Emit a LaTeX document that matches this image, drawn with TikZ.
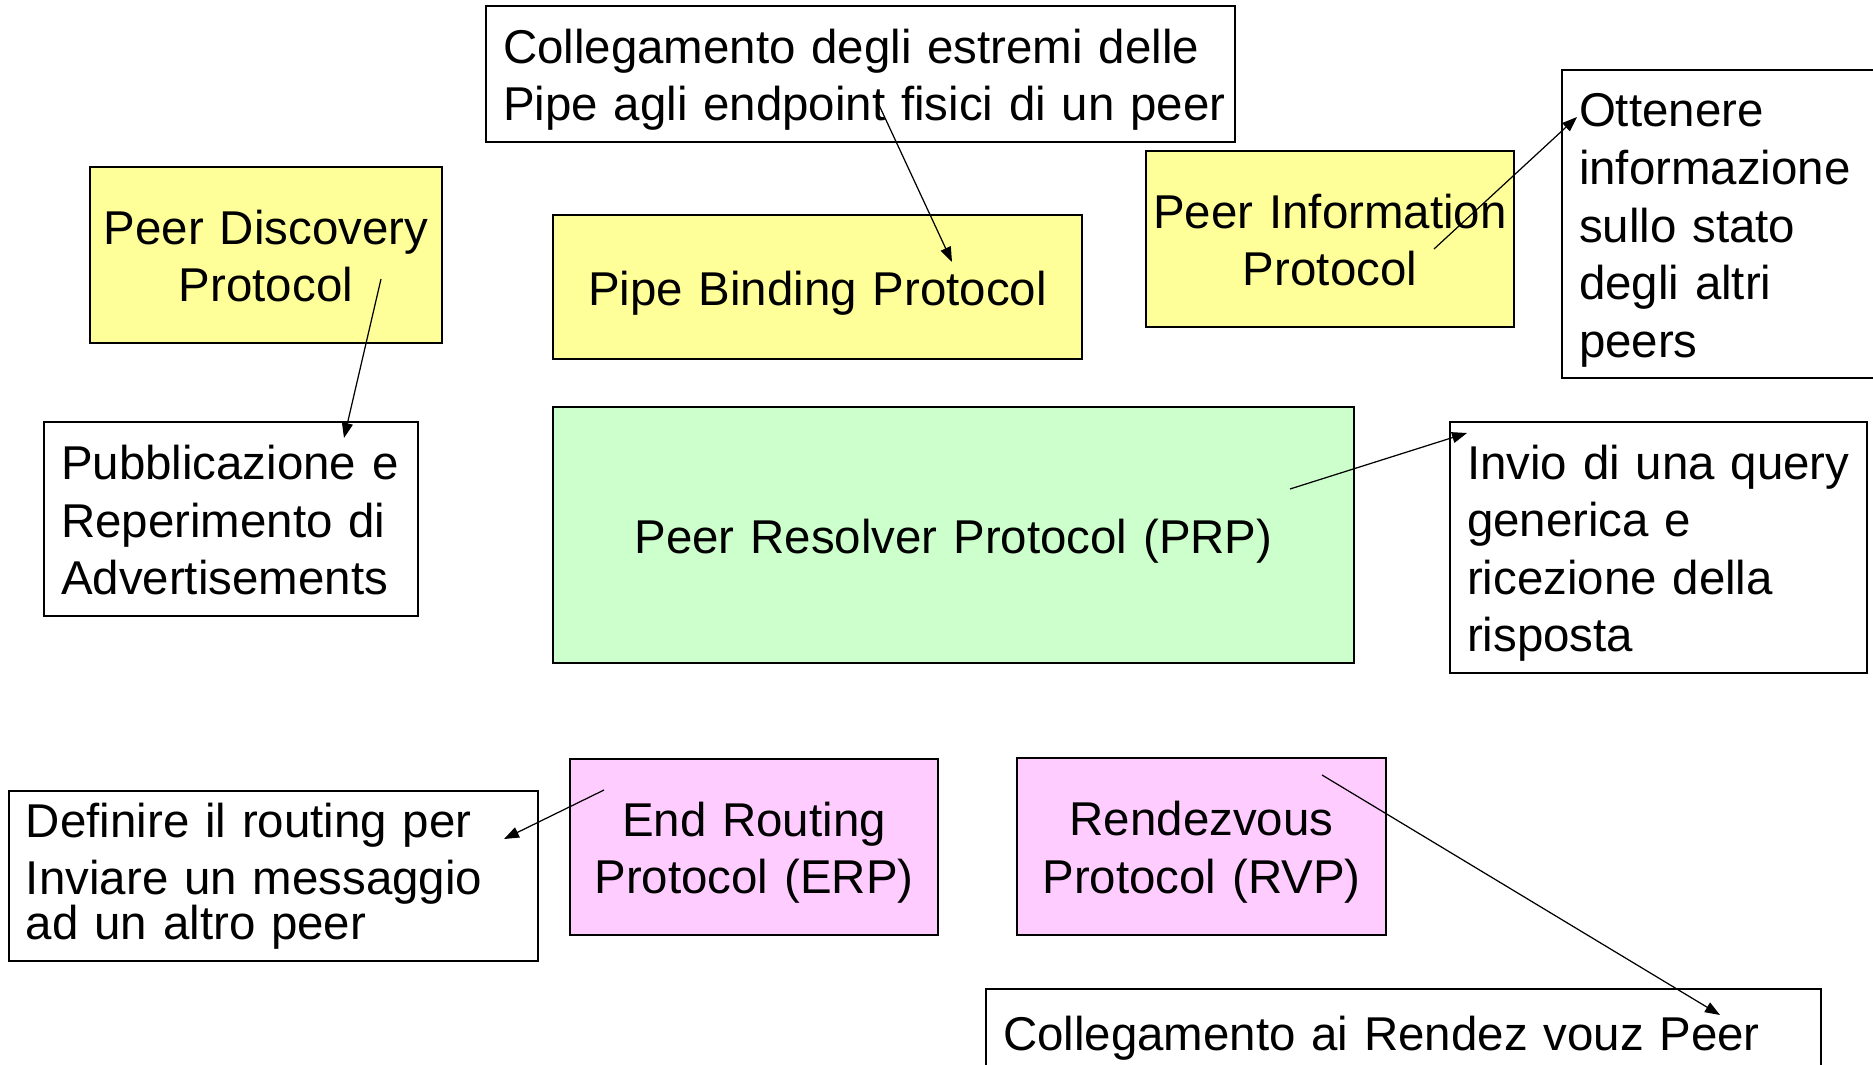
\documentclass[tikz,border=0pt]{standalone}
\usepackage{fontspec}
\setmainfont{Liberation Sans}
\usetikzlibrary{arrows.meta}

\definecolor{protoYellow}{HTML}{FFFF99}
\definecolor{protoGreen}{HTML}{CCFFCC}
\definecolor{protoPink}{HTML}{FFCCFF}

\begin{document}
\begin{tikzpicture}[
            x=1cm, y=-1cm,
            font=\fontsize{13.5}{16.4}\selectfont,
            lineFix/.style={execute at begin node={\rule{0pt}{0.46cm}},
            execute at end node={\rule[-0.10cm]{0pt}{0pt}}},
            protoNode/.style={rectangle, draw=black, line width=0.6pt, align=center,
            inner sep=0pt, lineFix},
            noteBase/.style={rectangle, draw=black, line width=0.4pt, fill=white,
            align=left, inner xsep=0.17cm, inner ysep=0pt},
            noteNode/.style={noteBase, lineFix},
            arrow/.style={line width=0.35pt, -{Triangle[length=1.5mm, width=1.1mm]}},
        ]
        \useasboundingbox[fill=white] (0,0) rectangle (18.73,10.65);
        % protocol boxes
        \node[protoNode, fill=protoYellow, text width=3.52cm, minimum height=1.76cm] (peerDisc) at (2.66,2.55) {Peer Discovery\\Protocol};
        \node[protoNode, fill=protoYellow, text width=5.29cm, minimum height=1.44cm] (pipeBind) at (8.175,2.87) {Pipe Binding Protocol};
        \node[protoNode, fill=protoYellow, text width=3.68cm, minimum height=1.76cm] (peerInfo) at (13.30,2.39) {Peer Information\\Protocol};
        \node[protoNode, fill=protoGreen, text width=8.01cm, minimum height=2.56cm] (peerRes) at (9.535,5.35) {Peer Resolver Protocol (PRP)};
        \node[protoNode, fill=protoPink, text width=3.68cm, minimum height=1.76cm] (endRout) at (7.54,8.47) {End Routing\\Protocol (ERP)};
        \node[protoNode, fill=protoPink, text width=3.69cm, minimum height=1.77cm] (rendez) at (12.015,8.465) {Rendezvous\\Protocol (RVP)};
        % descriptions
        \node[noteNode, text width=7.15cm, minimum height=1.36cm] (pipeNote) at (8.605,0.74) {Collegamento degli estremi delle\\\mbox{Pipe agli endpoint fisici di un peer}};
        \node[noteNode, text width=3.26cm, minimum height=3.08cm] (infoNote) at (17.42,2.24) {Ottenere\\informazione\\sullo stato\\degli altri\\peers};
        \node[noteNode, text width=3.40cm, minimum height=1.94cm] (discNote) at (2.31,5.19) {Pubblicazione e\\Reperimento di\\Advertisements};
        \node[noteNode, text width=3.83cm, minimum height=2.51cm] (resNote) at (16.585,5.475) {Invio di una query\\generica e\\ricezione della\\risposta};
        \node[noteBase, text width=4.95cm, minimum height=1.70cm] (routNote) at (2.735,8.76) {Definire il routing per\\Inviare un messaggio\\[-0.13cm]ad un altro peer};
        \node[noteNode, text width=8.01cm, minimum height=0.86cm] (rendezNote) at (14.035,10.32) {Collegamento ai Rendez vouz Peer};
        % arrow ends
        \coordinate (discOut) at (3.81,2.79);
        \coordinate (discIn) at (3.44,4.38);
        \coordinate (pipeOut) at (8.79,1.05);
        \coordinate (pipeIn) at (9.52,2.62);
        \coordinate (infoOut) at (14.34,2.49);
        \coordinate (infoIn) at (15.77,1.17);
        \coordinate (resOut) at (12.90,4.89);
        \coordinate (resIn) at (14.67,4.33);
        \coordinate (routOut) at (6.04,7.90);
        \coordinate (routIn) at (5.04,8.39);
        \coordinate (rendezOut) at (13.22,7.75);
        \coordinate (rendezIn) at (17.20,10.15);
        \draw[arrow] (discOut) -- (discIn);
        \draw[arrow] (pipeOut) -- (pipeIn);
        \draw[arrow] (infoOut) -- (infoIn);
        \draw[arrow] (resOut) -- (resIn);
        \draw[arrow] (routOut) -- (routIn);
        \draw[arrow] (rendezOut) -- (rendezIn);
    \end{tikzpicture}
\end{document}
